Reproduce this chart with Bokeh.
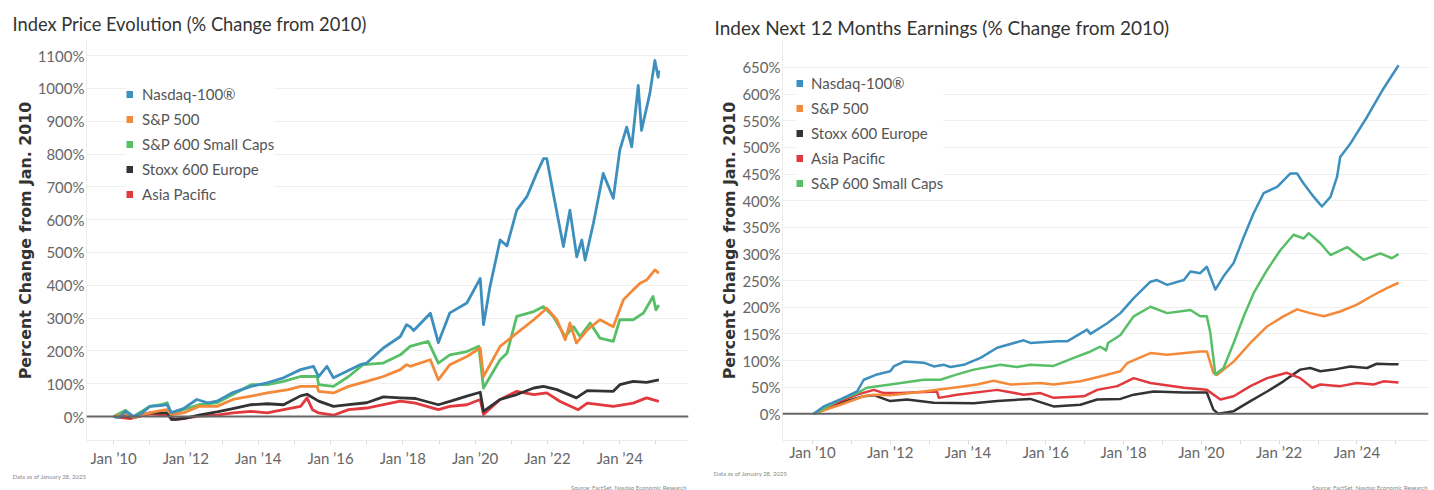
from bokeh.plotting import figure
from bokeh.layouts import row
from bokeh.models import (Range1d, Span, Title, Legend, LegendItem, FixedTicker,
                          PrintfTickFormatter)
from bokeh.embed import file_html
from bokeh.resources import INLINE

# ---------------- data: price evolution (% change from Jan 2010) ----------------
px_t_ndx = [2010.0, 2010.15, 2010.33, 2010.55, 2010.8, 2011.0, 2011.3, 2011.48, 2011.6, 2011.93,
            2012.3, 2012.6, 2012.86, 2013.3, 2013.8, 2014.25, 2014.7, 2015.17, 2015.53, 2015.67,
            2015.9, 2016.08, 2016.45, 2016.82, 2017.0, 2017.46, 2017.93, 2018.1, 2018.2, 2018.3,
            2018.76, 2018.98, 2019.3, 2019.77, 2020.14, 2020.23, 2020.41, 2020.69, 2020.88, 2021.15,
            2021.43, 2021.7, 2021.89, 2021.98, 2022.16, 2022.44, 2022.62, 2022.81, 2022.95, 2023.04,
            2023.27, 2023.54, 2023.82, 2024.0, 2024.19, 2024.33, 2024.51, 2024.6, 2024.83, 2024.97,
            2025.06, 2025.08]
px_ndx = [0, -3, 16, 0, 12, 31, 33, 36, 12, 24,
          52, 42, 47, 73, 92, 103, 118, 143, 153, 122,
          153, 118, 138, 158, 163, 209, 244, 280, 274, 262,
          315, 225, 316, 346, 421, 280, 396, 538, 520, 629,
          670, 741, 786, 786, 680, 518, 629, 487, 538, 477,
          589, 741, 665, 812, 882, 822, 1009, 872, 984, 1085,
          1034, 1055]

px_t_spx = [2010.0, 2010.33, 2010.55, 2011.0, 2011.3, 2011.48, 2011.6, 2011.93, 2012.36, 2012.86,
            2013.3, 2013.8, 2014.25, 2014.83, 2015.17, 2015.63, 2015.67, 2016.08, 2016.5, 2017.0,
            2017.46, 2017.93, 2018.1, 2018.2, 2018.76, 2018.98, 2019.3, 2019.77, 2020.14, 2020.23,
            2020.69, 2021.15, 2021.62, 2021.98, 2022.26, 2022.49, 2022.62, 2022.8, 2023.1, 2023.45,
            2023.82, 2024.1, 2024.37, 2024.56, 2024.74, 2024.97, 2025.08]
px_spx = [0, 8, -3, 11, 18, 21, 6, 11, 31, 31,
          52, 62, 72, 82, 92, 92, 77, 72, 92, 107,
          122, 143, 158, 153, 173, 112, 158, 183, 209, 122,
          214, 254, 295, 330, 295, 234, 285, 224, 264, 295,
          274, 356, 386, 406, 416, 447, 437]

px_t_sml = [2010.0, 2010.33, 2010.55, 2011.0, 2011.3, 2011.48, 2011.6, 2011.93, 2012.36, 2012.86,
            2013.3, 2013.8, 2014.25, 2014.7, 2015.17, 2015.63, 2015.67, 2016.08, 2016.5, 2016.9,
            2017.46, 2017.93, 2018.2, 2018.7, 2018.98, 2019.3, 2019.77, 2020.1, 2020.23, 2020.69,
            2020.88, 2021.15, 2021.62, 2021.89, 2022.16, 2022.49, 2022.72, 2022.9, 2023.18, 2023.45,
            2023.82, 2024.0, 2024.37, 2024.65, 2024.92, 2025.0, 2025.08]
px_sml = [0, 19, 0, 31, 36, 42, 6, 21, 36, 42,
          67, 97, 97, 107, 122, 122, 97, 92, 122, 158,
          163, 188, 214, 229, 163, 188, 198, 214, 87, 173,
          193, 305, 320, 335, 305, 244, 274, 244, 285, 239,
          229, 295, 295, 315, 366, 325, 340]

px_t_eur = [2010.0, 2010.33, 2010.55, 2011.0, 2011.48, 2011.6, 2011.93, 2012.36, 2012.86, 2013.3,
            2013.8, 2014.25, 2014.7, 2015.17, 2015.35, 2015.67, 2016.08, 2016.5, 2017.0, 2017.46,
            2017.93, 2018.35, 2018.98, 2019.3, 2019.77, 2020.14, 2020.23, 2020.69, 2021.15, 2021.62,
            2021.89, 2022.26, 2022.8, 2023.1, 2023.82, 2024.0, 2024.37, 2024.74, 2025.08]
px_eur = [0, 2, -3, 11, 11, -9, -6, 4, 14, 24,
          36, 39, 36, 63, 68, 47, 31, 36, 42, 60,
          57, 55, 36, 46, 62, 74, 16, 52, 67, 87,
          92, 82, 57, 79, 77, 97, 107, 104, 112]

px_t_apac = [2010.0, 2010.45, 2011.0, 2011.48, 2011.7, 2012.36, 2012.86, 2013.3, 2013.8, 2014.25,
             2014.7, 2015.17, 2015.35, 2015.5, 2015.67, 2016.08, 2016.5, 2017.0, 2017.46, 2017.93,
             2018.35, 2018.98, 2019.3, 2019.77, 2020.14, 2020.23, 2020.69, 2021.15, 2021.62, 2021.98,
             2022.35, 2022.85, 2023.1, 2023.82, 2024.37, 2024.74, 2025.08]
px_apac = [0, -6, 8, 4, -9, 1, 4, 11, 16, 11,
           21, 31, 57, 21, 11, 4, 21, 26, 36, 47,
           41, 21, 31, 36, 52, 6, 52, 77, 67, 72,
           46, 21, 41, 31, 41, 57, 46]

# ---------------- data: next 12 months earnings (% change from Jan 2010) ----------------
ep_t_ndx = [2010.03, 2010.29, 2010.72, 2011.15, 2011.32, 2011.66, 2012.0, 2012.09, 2012.35, 2012.86,
            2013.12, 2013.38, 2013.55, 2013.89, 2014.32, 2014.75, 2015.43, 2015.6, 2016.29, 2016.55,
            2017.06, 2017.15, 2017.58, 2017.92, 2018.26, 2018.69, 2018.86, 2019.12, 2019.55, 2019.72,
            2019.97, 2020.14, 2020.36, 2020.57, 2020.83, 2021.09, 2021.34, 2021.6, 2021.95, 2022.29,
            2022.46, 2022.63, 2022.89, 2023.1, 2023.32, 2023.49, 2023.57, 2023.83, 2024.26, 2024.68,
            2025.07]
ep_ndx = [0, 14, 27, 42, 64, 74, 80, 89, 98, 96,
          89, 92, 88, 92, 105, 124, 138, 133, 136, 136,
          158, 150, 170, 189, 217, 248, 251, 242, 251, 267,
          264, 276, 233, 258, 283, 332, 376, 414, 426, 451,
          451, 432, 407, 389, 407, 445, 482, 507, 557, 610,
          654]

ep_t_spx = [2010.03, 2010.72, 2011.32, 2011.58, 2012.0, 2012.86, 2013.72, 2014.23, 2014.66, 2015.09,
            2015.86, 2016.2, 2016.89, 2017.4, 2017.92, 2018.09, 2018.69, 2019.12, 2019.97, 2020.14,
            2020.31, 2020.4, 2020.83, 2021.26, 2021.69, 2022.11, 2022.46, 2022.8, 2023.15, 2023.57,
            2024.0, 2024.43, 2024.77, 2025.07]
ep_spx = [0, 17, 33, 36, 35, 42, 50, 55, 62, 55,
          58, 55, 61, 70, 80, 95, 114, 111, 117, 117,
          77, 73, 98, 133, 164, 183, 196, 189, 183, 192,
          205, 223, 236, 246]

ep_t_eur = [2010.03, 2010.72, 2011.32, 2011.58, 2012.0, 2012.43, 2013.12, 2014.15, 2014.75, 2015.6,
            2016.2, 2016.89, 2017.32, 2017.92, 2018.26, 2018.77, 2019.55, 2020.14, 2020.31, 2020.44,
            2020.83, 2021.26, 2021.69, 2022.11, 2022.54, 2022.8, 2023.06, 2023.4, 2023.83, 2024.26,
            2024.51, 2024.86, 2025.07]
ep_eur = [0, 21, 33, 35, 24, 27, 21, 20, 24, 28,
          14, 17, 27, 28, 36, 42, 40, 40, 8, 0,
          5, 24, 42, 61, 83, 86, 80, 83, 89, 86,
          94, 93, 93]

ep_t_apac = [2010.03, 2010.72, 2011.15, 2011.58, 2011.83, 2012.26, 2013.2, 2013.25, 2013.72, 2014.75,
             2015.43, 2015.86, 2016.2, 2016.98, 2017.32, 2017.84, 2018.26, 2018.69, 2019.55, 2020.14,
             2020.49, 2020.83, 2021.26, 2021.69, 2022.2, 2022.54, 2022.85, 2023.06, 2023.57, 2024.0,
             2024.43, 2024.68, 2025.07]
ep_apac = [0, 24, 36, 45, 39, 39, 42, 30, 36, 45,
           36, 39, 30, 33, 45, 52, 67, 58, 49, 45,
           27, 33, 52, 67, 77, 67, 49, 55, 52, 58,
           55, 61, 59]

ep_t_sml = [2010.03, 2010.72, 2011.15, 2011.4, 2012.0, 2012.86, 2013.29, 2013.72, 2014.15, 2014.83,
            2015.26, 2015.6, 2016.2, 2016.72, 2017.15, 2017.4, 2017.55, 2017.6, 2017.92, 2018.26,
            2018.69, 2019.12, 2019.72, 2019.97, 2020.14, 2020.23, 2020.36, 2020.57, 2020.83, 2021.09,
            2021.34, 2021.69, 2022.03, 2022.37, 2022.63, 2022.76, 2023.06, 2023.32, 2023.75, 2024.17,
            2024.6, 2024.9, 2025.07]
ep_sml = [0, 27, 39, 49, 55, 64, 64, 74, 83, 92,
          88, 92, 90, 105, 117, 126, 119, 133, 148, 183,
          201, 189, 195, 183, 183, 152, 74, 86, 133, 183,
          226, 270, 307, 336, 329, 339, 320, 298, 313, 289,
          301, 292, 300]

tick_years = list(range(2010, 2026))
left_y_ticks = list(range(0, 1101, 100))
right_y_ticks = list(range(0, 651, 50))

names_ndx = "Nasdaq-100\u00ae"
names_spx = "S&P 500"
names_sml = "S&P 600 Small Caps"
names_eur = "Stoxx 600 Europe"
names_apac = "Asia Pacific"

title_left = "Index Price Evolution (% Change from 2010)"
title_right = "Index Next 12 Months Earnings (% Change from 2010)"
footer_date = "Data as of January 28, 2025"
footer_source = "Source: FactSet, Nasdaq Economic Research"

C_BLUE = "#3d8fbd"
C_ORANGE = "#f4893a"
C_GREEN = "#58bf66"
C_BLACK = "#333333"
C_RED = "#e2393e"

FONT = "Lato"
NAN = float("nan")


def base_fig(width, xr, yr, bl, br, yticks, title, title_size, title_off, title_standoff,
             x_label_standoff, foot_left_off, foot_right_off, foot_standoff):
    p = figure(width=width, height=490, x_range=Range1d(*xr), y_range=Range1d(*yr),
               output_backend="svg", toolbar_location=None,
               min_border_left=bl, min_border_right=br, min_border_top=40, min_border_bottom=49)
    p.title = None
    p.outline_line_color = None
    p.background_fill_color = "white"
    p.border_fill_color = "white"
    p.xgrid.visible = False
    p.ygrid.ticker = FixedTicker(ticks=yticks)
    p.ygrid.grid_line_color = "#efefef"
    p.ygrid.grid_line_width = 1

    p.yaxis.ticker = FixedTicker(ticks=yticks)
    p.yaxis.formatter = PrintfTickFormatter(format="%d%%")
    p.yaxis.axis_line_color = "#ececec"
    p.yaxis.major_tick_line_color = None
    p.yaxis.major_tick_in = 0
    p.yaxis.major_tick_out = 0
    p.yaxis.minor_tick_line_color = None
    p.yaxis.minor_tick_in = 0
    p.yaxis.minor_tick_out = 0
    p.yaxis.major_label_text_font = FONT
    p.yaxis.major_label_text_font_size = "15px"
    p.yaxis.major_label_text_color = "#666666"
    p.yaxis.major_label_standoff = 2
    p.yaxis.axis_label = "Percent Change from Jan. 2010"
    p.yaxis.axis_label_text_font = "DejaVu Sans"
    p.yaxis.axis_label_text_font_style = "bold"
    p.yaxis.axis_label_text_font_size = "15.8px"
    p.yaxis.axis_label_text_color = "#333333"
    p.yaxis.axis_label_standoff = 0

    p.xaxis.ticker = FixedTicker(ticks=tick_years)
    p.xaxis.major_label_overrides = {
        y: (f"Jan \u2019{y % 100:02d}" if y % 2 == 0 else "") for y in tick_years}
    p.xaxis.axis_line_color = "#ececec"
    p.xaxis.major_tick_line_color = "#dddddd"
    p.xaxis.major_tick_in = 0
    p.xaxis.major_tick_out = 4
    p.xaxis.minor_tick_line_color = None
    p.xaxis.major_label_text_font = FONT
    p.xaxis.major_label_text_font_size = "15px"
    p.xaxis.major_label_text_color = "#666666"
    p.xaxis.major_label_standoff = x_label_standoff

    p.add_layout(Span(location=0, dimension="width", line_color="#666666", line_width=2))

    p.add_layout(Title(text=title, align="left", offset=title_off, standoff=title_standoff,
                       text_font=FONT, text_font_size=title_size, text_font_style="normal",
                       text_color="#333333"), "above")
    p.add_layout(Title(text=footer_date, align="left", offset=foot_left_off,
                       standoff=foot_standoff, text_font=FONT, text_font_size="6px",
                       text_font_style="normal", text_color="#888888"), "below")
    p.add_layout(Title(text=footer_source, align="right", offset=foot_right_off,
                       standoff=0, text_font=FONT, text_font_size="6px",
                       text_font_style="normal", text_color="#888888"), "below")
    return p


def add_legend(p, entries, loc, standoff):
    items = []
    for label, color in entries:
        r = p.line(x=[NAN], y=[NAN], line_width=7, line_color=color, line_cap="butt")
        items.append(LegendItem(label=label, renderers=[r]))
    lg = Legend(items=items, location=loc, margin=0, padding=5, spacing=5,
                glyph_width=7, glyph_height=20, label_height=20, label_standoff=standoff,
                label_text_font=FONT, label_text_font_size="15px", label_text_color="#555555",
                background_fill_color="white", background_fill_alpha=1.0,
                border_line_color=None)
    p.add_layout(lg)


# ---------------- left chart ----------------
p1 = base_fig(707, (2009.25, 2025.9), (-73, 1146), 86, 19, left_y_ticks,
              title_left, "18.3px", -74, 11, 4, -74, 2, 3)
for t, v, c in [(px_t_apac, px_apac, C_RED), (px_t_eur, px_eur, C_BLACK),
                (px_t_sml, px_sml, C_GREEN), (px_t_spx, px_spx, C_ORANGE),
                (px_t_ndx, px_ndx, C_BLUE)]:
    p1.line(t, v, line_color=c, line_width=2.8, line_join="round")
add_legend(p1, [(names_ndx, C_BLUE), (names_spx, C_ORANGE), (names_sml, C_GREEN),
                (names_eur, C_BLACK), (names_apac, C_RED)], (40, 236), 9)

# ---------------- right chart ----------------
p2 = base_fig(727, (2009.23, 2025.84), (-50, 700.5), 75, 6, right_y_ticks,
              title_right, "19px", -68, 3, -2, -69, 1, 9)
for t, v, c in [(ep_t_eur, ep_eur, C_BLACK), (ep_t_apac, ep_apac, C_RED),
                (ep_t_spx, ep_spx, C_ORANGE), (ep_t_sml, ep_sml, C_GREEN),
                (ep_t_ndx, ep_ndx, C_BLUE)]:
    p2.line(t, v, line_color=c, line_width=2.5, line_join="round")
add_legend(p2, [(names_ndx, C_BLUE), (names_spx, C_ORANGE), (names_eur, C_BLACK),
                (names_apac, C_RED), (names_sml, C_GREEN)], (14, 247), 8)

layout = row(p1, p2)
open("out.html", "w").write(file_html(layout, INLINE))
